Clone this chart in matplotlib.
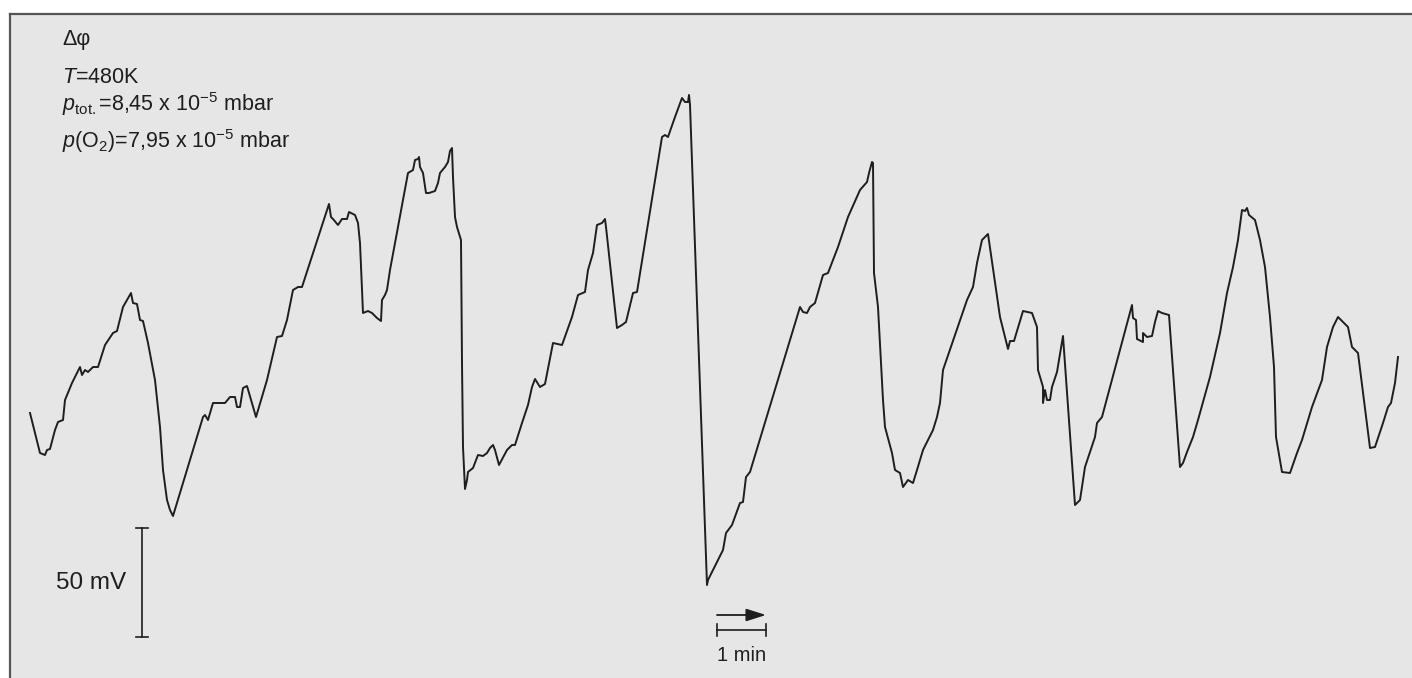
import matplotlib
matplotlib.use("Agg")
import matplotlib.pyplot as plt

plt.rcParams['font.family'] = ['Liberation Sans', 'DejaVu Sans']
plt.rcParams['mathtext.fontset'] = 'custom'
plt.rcParams['mathtext.rm'] = 'Liberation Sans'
plt.rcParams['mathtext.it'] = 'Liberation Sans:italic'
plt.rcParams['mathtext.bf'] = 'Liberation Sans:bold'

# Recorder trace (chart units: time to the right, Δφ downward-positive on the recorder paper)
trace_x = [30, 40, 45, 47, 50, 55, 58, 63, 65, 72, 80, 82, 85, 88, 93, 98, 105, 113, 117, 123,
           131, 133, 137, 140, 143, 148, 155, 160, 163, 167, 170, 173, 203, 205, 208, 213, 225,
           230, 235, 237, 240, 243, 247, 256, 267, 277, 282, 287, 293, 298, 302,
           329, 331, 333, 338, 342, 347, 349, 355, 358, 360, 363, 368, 372, 375, 377, 381, 382,
           385, 387, 390, 408, 413, 415, 418, 419, 420, 423, 426, 429, 435, 438, 440, 445, 448,
           450, 452, 453, 455, 457, 461, 462, 463, 465, 467, 468, 473, 478, 483, 487, 490, 493,
           495, 499, 507, 512, 515, 522, 528, 532, 535, 540, 545, 553, 562, 572, 578, 585, 588,
           593, 597, 602, 605, 606, 617, 622, 626, 633, 637, 662, 665,
           668, 675, 682, 685, 688, 689, 690, 707, 708, 717, 723, 726, 732, 740, 743, 746, 750,
           800, 803, 807, 810, 815, 823, 828, 838, 848, 860, 867, 869, 872, 873, 874, 878, 883,
           885, 892, 895, 900, 903, 908, 913, 917, 923, 933, 937, 940, 943, 967, 973, 977, 982,
           988, 1000, 1008, 1010, 1014, 1023, 1032, 1037, 1038, 1043, 1043, 1045, 1047, 1050,
           1052, 1057, 1063, 1075, 1080, 1085, 1095, 1097, 1102, 1132, 1133, 1136, 1137, 1143,
           1143, 1147, 1152, 1155, 1158, 1162, 1169, 1180, 1183, 1187, 1193, 1198, 1210, 1220,
           1227, 1233, 1238, 1242, 1245, 1247, 1249, 1255, 1260, 1265, 1270, 1274, 1276, 1282,
           1290, 1297, 1302, 1312, 1322, 1327, 1333, 1338, 1348, 1352, 1358, 1370, 1375, 1383,
           1388, 1391, 1395, 1398]
trace_y = [413, 453, 455, 450, 449, 430, 422, 420, 400, 383, 367, 375, 370, 372, 367, 367, 345, 333, 331, 307,
           293, 303, 304, 320, 321, 343, 380, 427, 470, 500, 510, 516, 417, 415, 420, 403, 403,
           397, 397, 407, 407, 388, 386, 417, 380, 337, 336, 320, 290, 287, 287,
           204, 217, 219, 225, 219, 219, 212, 215, 223, 243, 313, 311, 313, 316, 318, 321, 300,
           295, 290, 270, 173, 170, 160, 159, 157, 167, 173, 193, 193, 191, 183, 173, 167, 162,
           151, 148, 177, 217, 227, 240, 363, 447, 489, 480, 472, 468, 455, 456, 453, 448, 445,
           450, 465, 450, 445, 445, 423, 405, 387, 379, 387, 384, 343, 345, 317, 295, 292, 270,
           253, 225, 223, 219, 227, 328, 325, 322, 293, 292, 137, 135,
           137, 117, 98, 102, 102, 95, 105, 585, 580, 562, 550, 533, 525, 503, 502, 477, 472,
           307, 312, 313, 307, 303, 275, 273, 247, 217, 190, 182, 173, 162, 163, 273, 307, 400,
           427, 453, 470, 473, 487, 480, 483, 470, 450, 430, 417, 403, 370, 300, 287, 263, 240,
           234, 317, 349, 341, 341, 311, 313, 327, 370, 387, 403, 390, 400, 400,
           387, 372, 336, 505, 500, 467, 437, 423, 417, 305, 318, 320, 339, 342,
           333, 337, 336, 322, 311, 313, 315, 467, 463, 452, 437, 420, 377, 333,
           293, 267, 240, 210, 211, 208, 215, 220, 240, 267, 317, 367, 437, 472,
           473, 453, 440, 407, 380, 347, 327, 317, 327, 347, 353, 448, 447, 423,
           407, 403, 383, 357]

# Scale bars and annotation texts
mv_bar = (142, 528, 637)        # x, y_top, y_bottom  (50 mV)
time_bar = (717, 766, 630)      # x_start, x_end, y   (1 min)
arrow_y = 615
label_mv = "50 mV"
label_time = "1 min"
header_lines = [
    "Δφ",
    r"$T$=480K",
    r"$p_{\rm tot.}$=8,45 x 10$^{-5}$ mbar",
    r"$p$(O$_2$)=7,95 x 10$^{-5}$ mbar",
]
header_baselines = [45, 83, 111, 148]

W, H = 1412, 678
fig = plt.figure(figsize=(W / 100, H / 100), dpi=100, facecolor='white')
left_px, top_px = 10, 14
ax = fig.add_axes([left_px / W, 0, 1 - left_px / W, (H - top_px) / H])
ax.set_facecolor('#e6e6e6')
ax.set_xlim(left_px, W)
ax.set_ylim(H, top_px)
ax.set_xticks([])
ax.set_yticks([])
for s in ['right', 'bottom']:
    ax.spines[s].set_visible(False)
for s in ['left', 'top']:
    ax.spines[s].set_color('#555555')
    ax.spines[s].set_linewidth(1.6)

ink = '#1e1e1e'
ax.plot(trace_x, trace_y, color=ink, lw=1.4, solid_joinstyle='round')

# header text
for txt, yb in zip(header_lines, header_baselines):
    ax.text(62, yb, txt, fontsize=15.5, color=ink, va='baseline', ha='left')

# 50 mV scale bar
bx, by0, by1 = mv_bar
ax.plot([bx, bx], [by0, by1], color=ink, lw=1.2)
ax.plot([bx - 6, bx + 6], [by0, by0], color=ink, lw=1.2)
ax.plot([bx - 6, bx + 6], [by1, by1], color=ink, lw=1.2)
ax.text(126, 589, label_mv, fontsize=17.5, color=ink, ha='right', va='baseline')

# time bar and arrow
tx0, tx1, ty = time_bar
ax.plot([tx0, tx1], [ty, ty], color=ink, lw=1.2)
ax.plot([tx0, tx0], [ty - 6, ty + 6], color=ink, lw=1.2)
ax.plot([tx1, tx1], [ty - 6, ty + 6], color=ink, lw=1.2)
ax.annotate('', xy=(tx1, arrow_y), xytext=(tx0, arrow_y),
            arrowprops=dict(arrowstyle='-|>,head_length=1.2,head_width=0.38',
                            color=ink, lw=1.3, shrinkA=0, shrinkB=0))
ax.text(717, 661, label_time, fontsize=14.5, color=ink, ha='left', va='baseline')

fig.savefig('out.png', dpi=100, facecolor='white')
